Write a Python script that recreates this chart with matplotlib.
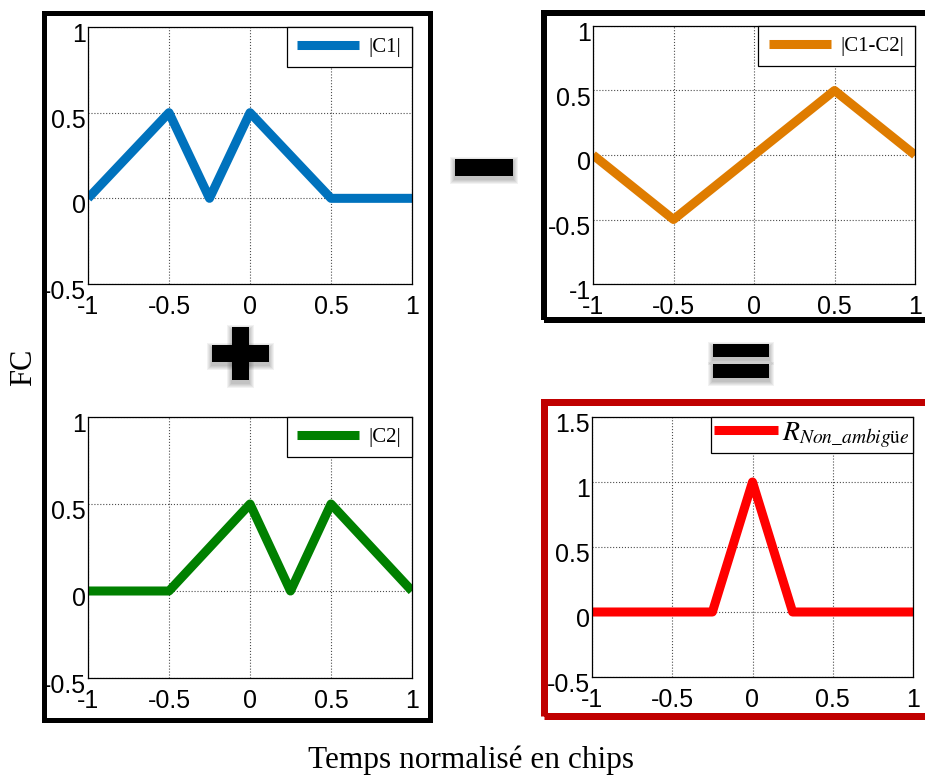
import numpy as np
import matplotlib
matplotlib.use("Agg")
import matplotlib.pyplot as plt
from matplotlib.patches import Rectangle
from matplotlib.transforms import ScaledTranslation

# donnees
x_c1 = [-1, -0.5, -0.25, 0, 0.5, 1]
y_c1 = [0, 0.5, 0, 0.5, 0, 0]
x_c2 = [-1, -0.5, 0, 0.25, 0.5, 1]
y_c2 = [0, 0, 0.5, 0, 0.5, 0]
x_diff = [-1, -0.5, 0, 0.5, 1]
y_diff = [0, -0.5, 0, 0.5, 0]
x_r = [-1, -0.25, 0, 0.25, 1]
y_r = [0, 0, 1, 0, 0]

xticks = [-1, -0.5, 0, 0.5, 1]
xlabels = ["-1", "-0.5", "0", "0.5", "1"]
yticks_c = [-0.5, 0, 0.5, 1]
yticks_diff = [-1, -0.5, 0, 0.5, 1]
yticks_r = [-0.5, 0, 0.5, 1, 1.5]

noms = ["|C1|", "|C2|", "|C1-C2|", r"$R_{Non\_ambig\mathrm{ü}e}$"]
couleurs = ["#0072BD", "#008000", "#DF7C00", "#FF0000"]

plt.rcParams["mathtext.fontset"] = "stix"

W, H = 925, 778
fig = plt.figure(figsize=(W / 100, H / 100), dpi=100)


def rect_px(x0, y0, x1, y1):
    # coordonnees pixel (origine en haut a gauche) -> fraction de figure
    return [x0 / W, 1 - y1 / H, (x1 - x0) / W, (y1 - y0) / H]


def panneau(pos, x, y, ytk, nom, couleur, taille_leg=15, bpad=0.5, hlen=3.0, htpad=0.45):
    ax = fig.add_axes(rect_px(*pos))
    ax.plot(x, y, color=couleur, lw=6.5, solid_joinstyle="round",
            solid_capstyle="butt", label=nom)
    ax.set_xlim(-1, 1)
    ax.set_ylim(ytk[0], ytk[-1])
    ax.set_xticks(xticks)
    ax.set_xticklabels(xlabels)
    ax.set_yticks(ytk)
    ax.set_yticklabels([f"{v:g}" for v in ytk])
    ax.grid(True, linestyle=":", color="0.3", lw=0.8)
    ax.tick_params(length=0, labelsize=18)
    ax.tick_params(axis="x", pad=8)
    ax.tick_params(axis="y", pad=1.5)
    for lab in ax.get_xticklabels() + ax.get_yticklabels():
        lab.set_family("Liberation Sans")
    for lab in ax.get_yticklabels():
        lab.set_transform(lab.get_transform() + ScaledTranslation(0, -4 / 72, fig.dpi_scale_trans))
    for s in ax.spines.values():
        s.set_linewidth(0.9)
    leg = ax.legend(loc="upper right", borderaxespad=0, fancybox=False,
                    framealpha=1, edgecolor="black", handlelength=hlen,
                    handletextpad=htpad, borderpad=bpad,
                    prop={"family": "Liberation Serif", "size": taille_leg})
    leg.get_frame().set_linewidth(0.9)
    return ax


panneau((88, 27, 412, 284), x_c1, y_c1, yticks_c, noms[0], couleurs[0])
panneau((88, 417, 412, 678), x_c2, y_c2, yticks_c, noms[1], couleurs[1])
panneau((593, 26, 915, 284), x_diff, y_diff, yticks_diff, noms[2], couleurs[2])
panneau((592, 417, 913, 677), x_r, y_r, yticks_r, noms[3], couleurs[3],
        taille_leg=20, bpad=0.12, hlen=2.3, htpad=0.15)


# cadres
def cadre(x0, y0, x1, y1, lw_px, couleur):
    r = Rectangle((x0 / W, 1 - y1 / H), (x1 - x0) / W, (y1 - y0) / H,
                  transform=fig.transFigure, fill=False, edgecolor=couleur,
                  lw=lw_px * 0.72, joinstyle="miter")
    fig.add_artist(r)

cadre(43.5, 12.5, 429.5, 719.5, 5, "black")
cadre(544, 13, 940, 320, 6, "black")
cadre(543.5, 401.5, 940, 716, 7, "#C00000")


# operateurs avec ombre
def barre(x0, y0, x1, y1):
    for i in range(5, 0, -1):
        fig.add_artist(Rectangle(((x0 - i) / W, 1 - (y1 + 3 + i) / H),
                                 (x1 - x0 + 2 * i) / W, (y1 - y0 + 2 * i) / H,
                                 transform=fig.transFigure, color="black",
                                 alpha=0.05, lw=0))
    fig.add_artist(Rectangle((x0 / W, 1 - y1 / H), (x1 - x0) / W, (y1 - y0) / H,
                             transform=fig.transFigure, color="black", lw=0))

barre(455, 159, 513, 176)
barre(212, 345, 269, 362)
barre(232, 327, 249, 380)
barre(713, 344, 769, 357)
barre(713, 364, 769, 378)

fig.text(24 / W, 1 - 367 / H, "FC", rotation=90, ha="center", va="center",
         family="Liberation Serif", fontsize=22)
fig.text(471 / W, 1 - 760 / H, "Temps normalisé en chips", ha="center", va="center",
         family="Liberation Serif", fontsize=22.5)

fig.savefig("out.png", dpi=100)
